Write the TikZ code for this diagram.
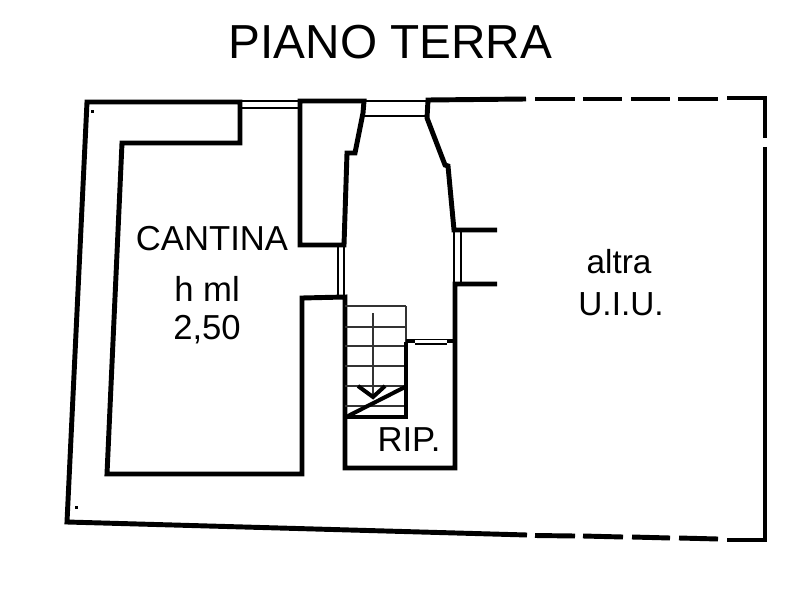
\documentclass[tikz,border=0pt]{standalone}
\usepackage{fontspec}
\setmainfont{Liberation Sans}
\tikzset{
    wall/.style={line width=3.7pt, line join=miter, line cap=butt},
    window/.style={line width=1.1pt},
    tread/.style={line width=1pt, black!80},
    label/.style={inner sep=0pt, align=center},
    roomtext/.style={label, font=\fontsize{26}{30}\selectfont},
}
\begin{document}
\begin{tikzpicture}[x=0.75pt,y=-0.75pt]

    \useasboundingbox[fill=white] (0,0) rectangle (812,602);

    \node (title) [label, font=\fontsize{35.8}{40}\selectfont] at (390.5,42) {PIANO TERRA};

    \draw[wall] (526,99) -- (428,100) -- (427,118) -- (445,165) -- (448,166) -- (454,230) -- (497,230);
    \draw[wall] (497,284) -- (455,284) -- (455,468) -- (345,468) -- (345,297) -- (302,298) -- (302,474) -- (107,474) -- (122,143) -- (240,143) -- (240,102) -- (87,102) -- (67,522) -- (527,535);
    \draw[wall] (300,101) -- (364,101) -- (363,113) -- (355,153) -- (347,153) -- (344,245) -- (300,245) -- cycle;

    \foreach \xa/\xb/\ya/\yb in {535/575/99/99,583/622/99/99,631/670/99/99,678/718/99/99,535/575/535.5/536,583/623/536/537,632/670/537/538,679/718/538/539}
    \draw[wall] (\xa,\ya) -- (\xb,\yb);
    \draw[wall] (727,98) -- (765,98) -- (765,138);
    \draw[wall] (765,147) -- (765,540) -- (727,540);

    \foreach \ya in {101,108}
    \draw[window] (240,\ya) -- (300,\ya);
    \draw[window] (364,101) -- (428,101);
    \draw[window] (364,116) -- (427,116);
    \draw[window] (338,245) -- (338,297);
    \draw[window] (344,245) -- (344,297);
    \draw[window] (454,230) -- (454,284);
    \draw[window] (461,230) -- (461,284);

    \foreach \ya in {306,327,346,366,386,406}
    \draw[tread] (345,\ya) -- (406,\ya);
    \draw[tread] (406,306) -- (406,342);
    \draw[tread] (373,313) -- (373,397);

    \draw[wall] (406,342) -- (406,417) -- (345,417);
    \draw[line width=2.6pt] (406,341) -- (415,341);
    \draw[line width=2.6pt] (447,341) -- (455,341);
    \draw[window] (415,339.5) -- (447,339.5);
    \draw[window] (415,344) -- (447,344);
    \draw[line width=3pt] (348,416) -- (405,387);
    \draw[line width=3pt] (358,386) -- (373,397) -- (385,386);

    \fill (90.5,110.5) rectangle (94,113);
    \fill (75,506) rectangle (77.5,508.5);

    \node (cantina) [roomtext] at (212,239) {CANTINA};
    \node (height) [roomtext] at (207,289) {h ml};
    \node (value) [roomtext] at (207,330) {2,50};
    \node (altra) [roomtext, font=\fontsize{25}{27}\selectfont] at (619,262) {altra};
    \node (uiu) [roomtext, font=\fontsize{25}{27}\selectfont] at (621,304) {U.I.U.};
    \node (rip) [roomtext] at (409,440) {RIP.};

\end{tikzpicture}
\end{document}
